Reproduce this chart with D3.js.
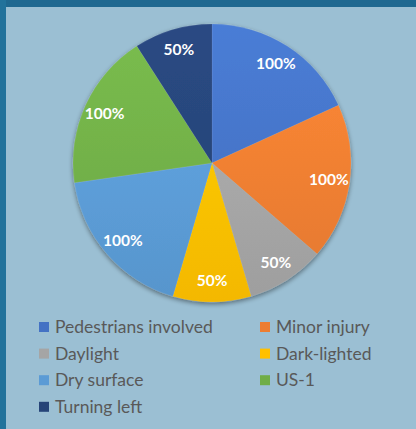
<!DOCTYPE html>
<html>
<head>
<meta charset="utf-8">
<script src="https://cdn.jsdelivr.net/npm/d3@7"></script>
<style>
  html, body { margin: 0; padding: 0; background: #1f6890; }
  svg { display: block; }
</style>
</head>
<body>
<svg id="chart" width="416" height="429"></svg>
<script>
var categories = ['Pedestrians involved', 'Minor injury', 'Daylight', 'Dark-lighted',
                  'Dry surface', 'US-1', 'Turning left'];
var values = [100, 100, 50, 50, 100, 100, 50];
var labels = ['100%', '100%', '50%', '50%', '100%', '100%', '50%'];
var colors = ['#4472c4', '#ed7d31', '#a5a5a5', '#ffc000', '#5b9bd5', '#70ad47', '#264478'];

var W = 416, H = 429;
var cx = 212, cy = 163, R = 139;

var svg = d3.select('#chart');
var defs = svg.append('defs');

// outer backdrop and light panel
svg.append('rect').attr('width', W).attr('height', H).attr('fill', '#1f6890');
svg.append('rect').attr('x', 0).attr('y', 0).attr('width', 6).attr('height', H)
    .attr('fill', '#2479a3').attr('opacity', 0.6);
svg.append('rect').attr('x', 6).attr('y', 7).attr('width', W - 6).attr('height', H - 7)
    .attr('fill', '#9bbfd3');

// slice gradients: lighter on top, a touch darker at the bottom
colors.forEach(function(c, i) {
    var g = defs.append('linearGradient')
        .attr('id', 'grad' + i)
        .attr('gradientUnits', 'userSpaceOnUse')
        .attr('x1', 0).attr('y1', -R).attr('x2', 0).attr('y2', R);
    g.append('stop').attr('offset', '0%').attr('stop-color', d3.color(c).brighter(0.25));
    g.append('stop').attr('offset', '100%').attr('stop-color', d3.color(c).darker(0.12));
});

var shadow = defs.append('filter').attr('id', 'shadow')
    .attr('x', '-20%').attr('y', '-20%').attr('width', '140%').attr('height', '140%');
shadow.append('feGaussianBlur').attr('in', 'SourceAlpha').attr('stdDeviation', 2.5);
shadow.append('feOffset').attr('dx', 0).attr('dy', 2).attr('result', 'b');
shadow.append('feComponentTransfer').append('feFuncA').attr('type', 'linear').attr('slope', 0.45);
var merge = shadow.append('feMerge');
merge.append('feMergeNode');
merge.append('feMergeNode').attr('in', 'SourceGraphic');

var pie = d3.pie().sort(null).value(function(d) { return d; });
var arcs = pie(values);
var arc = d3.arc().innerRadius(0).outerRadius(R);
var labelArc = d3.arc().innerRadius(118).outerRadius(118);

var g = svg.append('g').attr('transform', 'translate(' + cx + ',' + cy + ')');

g.append('g').attr('filter', 'url(#shadow)')
  .selectAll('path')
  .data(arcs)
  .enter().append('path')
    .attr('d', arc)
    .attr('fill', function(d, i) { return 'url(#grad' + i + ')'; })
    .attr('stroke', 'rgba(255,255,255,0.15)')
    .attr('stroke-width', 0.5);

g.selectAll('text.slicetext')
  .data(arcs)
  .enter().append('text')
    .attr('class', 'slicetext')
    .attr('transform', function(d) { return 'translate(' + labelArc.centroid(d) + ')'; })
    .attr('text-anchor', 'middle')
    .attr('dy', '0.35em')
    .attr('fill', '#ffffff')
    .attr('font-family', 'Lato, "Open Sans", sans-serif')
    .attr('font-weight', 'bold')
    .attr('font-size', 15.5)
    .text(function(d, i) { return labels[i]; });

// legend, two columns
var legend = svg.append('g');
var items = legend.selectAll('g.item')
  .data(categories)
  .enter().append('g')
    .attr('class', 'item')
    .attr('transform', function(d, i) {
        var col = i % 2, row = Math.floor(i / 2);
        return 'translate(' + (39 + col * 221) + ',' + (327 + row * 26.6) + ')';
    });

items.append('rect')
    .attr('x', 0).attr('y', -5).attr('width', 10).attr('height', 10)
    .attr('fill', function(d, i) { return colors[i]; });

items.append('text')
    .attr('x', 16).attr('dy', '0.35em')
    .attr('fill', '#595959')
    .attr('font-family', 'Lato, "Open Sans", sans-serif')
    .attr('font-size', 17.5)
    .text(function(d) { return d; });
</script>
</body>
</html>
